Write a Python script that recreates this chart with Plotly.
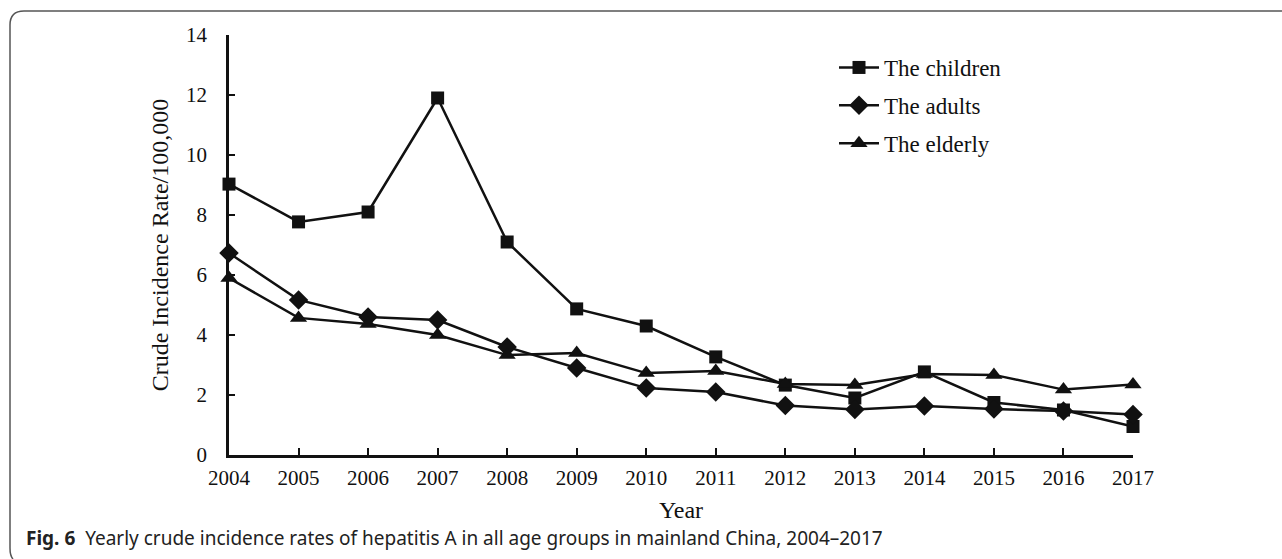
import plotly.graph_objects as go

years = list(range(2004, 2018))
children = [9.03, 7.77, 8.10, 11.90, 7.10, 4.87, 4.30, 3.27, 2.33, 1.90, 2.77, 1.75, 1.50, 0.95]
adults = [6.73, 5.17, 4.60, 4.50, 3.60, 2.90, 2.23, 2.10, 1.65, 1.52, 1.63, 1.53, 1.47, 1.35]
elderly = [5.90, 4.57, 4.37, 4.00, 3.33, 3.40, 2.73, 2.80, 2.37, 2.33, 2.70, 2.67, 2.18, 2.35]

series = [
    ("The children", children, "square", 13),
    ("The adults", adults, "diamond", 15),
    ("The elderly", elderly, "triangle-up", 15),
]

W, H = 1282, 559
L, R, T, B = 229, 149, 35, 104
pw, ph = W - L - R, H - T - B


def px(x):
    return (x - L) / pw


def py(y):
    return (H - B - y) / ph


serif = "Liberation Serif"
ink = "#111111"

fig = go.Figure()
for name, vals, sym, size in series:
    fig.add_trace(go.Scatter(
        x=years, y=vals, name=name, mode="lines+markers",
        legendgroup=name,
        line=dict(color=ink, width=2.5),
        marker=dict(symbol=sym, size=size, color=ink),
        cliponaxis=False,
    ))

fig.update_layout(
    width=W, height=H,
    margin=dict(l=L, r=R, t=T, b=B),
    paper_bgcolor="white", plot_bgcolor="white",
    font=dict(family=serif, size=20, color=ink),
    showlegend=True,
    legend=dict(
        x=px(834), y=py(46), xanchor="left", yanchor="top",
        font=dict(family=serif, size=23, color=ink),
        bgcolor="rgba(0,0,0,0)", tracegroupgap=5, itemwidth=40,
    ),
    xaxis=dict(
        range=[2004, 2017], tickmode="array", tickvals=years,
        ticktext=[str(y) for y in years],
        showgrid=False, zeroline=False,
        showline=True, linecolor=ink, linewidth=2.5,
        ticks="inside", ticklen=7, tickwidth=2, tickcolor=ink,
        tickfont=dict(family=serif, size=21, color=ink),
        ticklabelstandoff=2,
        title=dict(text="Year", font=dict(family=serif, size=24, color=ink), standoff=13),
    ),
    yaxis=dict(
        range=[0, 14], tickmode="array", tickvals=list(range(0, 15, 2)),
        showgrid=False, zeroline=False,
        showline=True, linecolor=ink, linewidth=2.5,
        ticks="inside", ticklen=6, tickwidth=2, tickcolor=ink,
        tickfont=dict(family=serif, size=21, color=ink),
        ticklabelstandoff=15,
        title=dict(text="Crude Incidence Rate/100,000",
                   font=dict(family=serif, size=24, color=ink), standoff=11),
    ),
)

# rounded frame around the figure, open on the right
frame_path = (
    f"M {px(1290)},{py(11)} L {px(24)},{py(11)} "
    f"Q {px(10)},{py(11)} {px(10)},{py(25)} "
    f"L {px(10)},{py(548)} Q {px(10)},{py(556)} {px(13)},{py(559)}"
)
fig.add_shape(type="path", path=frame_path, xref="paper", yref="paper",
              line=dict(color="#555555", width=1.5), layer="below")

fig.add_annotation(
    xref="paper", yref="paper", x=px(24), y=py(538), xanchor="left", yanchor="middle",
    showarrow=False,
    text="<b>Fig. 6</b>  Yearly crude incidence rates of hepatitis A in all age groups in mainland China, 2004–2017",
    font=dict(family="Noto Sans", size=19, color="#222222"),
)

fig.write_html("out.html")
